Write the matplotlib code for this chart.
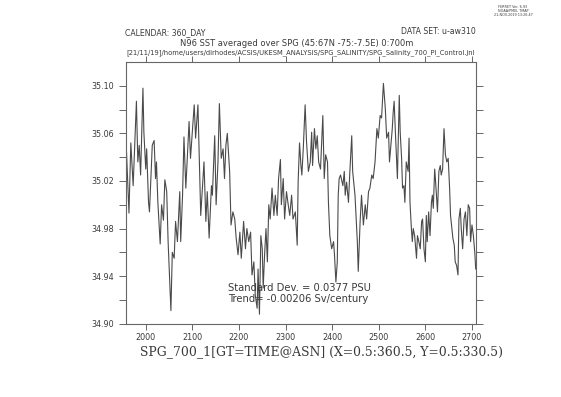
import numpy as np
import matplotlib
matplotlib.use('Agg')
import matplotlib.pyplot as plt

# salinity time series (model year, PSU)
years = [1957, 1964, 1968, 1973, 1975, 1980, 1983, 1986, 1989, 1994, 1996, 2000, 2002, 2006, 2008,
         2014, 2018, 2021, 2023, 2026, 2031, 2034, 2038, 2041, 2045, 2048, 2051, 2054, 2057, 2061,
         2064, 2068, 2073, 2075, 2079, 2082, 2086, 2093, 2096, 2104, 2107, 2112, 2118, 2125, 2129,
         2132, 2136, 2141, 2143, 2148, 2151, 2155, 2158, 2162, 2166, 2169, 2172, 2175, 2177, 2180,
         2183, 2187, 2191, 2194, 2198, 2202, 2205, 2210, 2214, 2217, 2221, 2225, 2228, 2232, 2235,
         2239, 2241, 2244, 2247, 2250, 2252, 2255, 2258, 2261, 2264, 2267, 2271, 2275, 2278, 2282,
         2285, 2289, 2291, 2295, 2298, 2302, 2305, 2309, 2313, 2316, 2321, 2325, 2327, 2330, 2333,
         2335, 2338, 2342, 2345, 2349, 2353, 2356, 2358, 2362, 2365, 2368, 2371, 2375, 2380, 2383,
         2386, 2390, 2392, 2395, 2399, 2403, 2405, 2408, 2411, 2413, 2415, 2418, 2423, 2426, 2428,
         2431, 2435, 2438, 2442, 2444, 2449, 2454, 2456, 2460, 2463, 2467, 2471, 2474, 2478, 2481,
         2485, 2488, 2492, 2496, 2499, 2503, 2506, 2510, 2514, 2517, 2521, 2523, 2526, 2529, 2531,
         2533, 2536, 2540, 2544, 2546, 2549, 2551, 2554, 2556, 2559, 2563, 2565, 2567, 2570, 2572,
         2574, 2577, 2581, 2583, 2586, 2589, 2592, 2594, 2597, 2600, 2602, 2604, 2607, 2610, 2613,
         2615, 2617, 2620, 2622, 2626, 2629, 2632, 2634, 2637, 2640, 2643, 2646, 2649, 2652, 2654,
         2657, 2659, 2662, 2664, 2667, 2670, 2672, 2675, 2677, 2680, 2683, 2686, 2689, 2692, 2695,
         2697, 2700, 2703, 2706, 2708]
sal = [35.061, 34.993, 35.052, 35.016, 35.036, 35.087, 35.036, 35.050, 35.025, 35.098, 35.061, 35.030, 35.047, 35.002, 34.994,
       35.050, 35.054, 35.022, 35.036, 35.002, 34.967, 35.000, 34.987, 35.021, 35.011, 34.969, 34.941, 34.911, 34.960, 34.955,
       34.986, 34.969, 35.011, 34.969, 35.008, 35.057, 35.014, 35.070, 35.039, 35.084, 35.056, 35.084, 34.991, 35.036, 34.986,
       35.011, 34.972, 35.016, 35.008, 35.058, 35.000, 35.036, 35.085, 35.039, 35.047, 35.022, 35.050, 35.060, 35.047, 35.028,
       34.983, 34.994, 34.988, 34.972, 34.958, 34.977, 34.955, 34.986, 34.963, 34.980, 34.969, 34.977, 34.941, 34.952, 34.924,
       34.913, 34.946, 34.908, 34.974, 34.963, 34.930, 34.958, 34.980, 34.952, 35.000, 34.988, 35.014, 34.991, 35.008, 34.991,
       35.022, 35.038, 35.000, 35.022, 34.988, 35.011, 35.002, 34.991, 35.008, 34.988, 34.994, 34.966, 35.019, 35.052, 35.033,
       35.025, 35.047, 35.084, 35.053, 35.028, 35.036, 35.061, 35.033, 35.064, 35.047, 35.058, 35.036, 35.030, 35.075, 35.022,
       35.042, 35.036, 35.002, 34.974, 34.963, 34.969, 34.958, 34.935, 34.952, 35.008, 35.022, 35.025, 35.016, 35.028, 35.008,
       35.019, 35.002, 35.028, 35.058, 35.028, 35.008, 34.969, 34.944, 34.986, 35.008, 34.983, 35.000, 34.988, 35.011, 35.014,
       35.025, 35.022, 35.036, 35.064, 35.056, 35.075, 35.073, 35.102, 35.081, 35.056, 35.061, 35.036, 35.050, 35.064, 35.078,
       35.087, 35.058, 35.022, 35.092, 35.061, 35.039, 35.014, 35.016, 35.002, 35.036, 35.028, 35.056, 35.002, 34.980, 34.969,
       34.980, 34.974, 34.955, 34.974, 34.969, 34.963, 34.986, 34.988, 34.963, 34.952, 34.991, 34.969, 34.994, 34.974, 35.002,
       35.008, 34.997, 35.030, 35.019, 34.994, 35.028, 35.033, 35.025, 35.030, 35.064, 35.042, 35.036, 35.039, 35.014, 34.991,
       34.980, 34.972, 34.966, 34.952, 34.949, 34.941, 34.988, 34.997, 34.980, 34.963, 34.988, 34.994, 34.974, 35.000, 34.997,
       34.969, 34.983, 34.974, 34.960, 34.946]

xticks = [2000, 2100, 2200, 2300, 2400, 2500, 2600, 2700]
yticks = [34.90, 34.94, 34.98, 35.02, 35.06, 35.10]
yminor = [34.92, 34.96, 35.00, 35.04, 35.08]

W, H = 561, 397
fig = plt.figure(figsize=(W / 100, H / 100), dpi=100)
ax = fig.add_axes([125.7 / W, 1 - 323.7 / H, 350 / W, 261.7 / H])

ax.plot(years, sal, color='#4a4a4a', linewidth=0.8)
ax.set_xlim(years[0], years[-1])
ax.set_ylim(34.90, 35.12)

ax.set_xticks(xticks)
ax.set_xticklabels([str(t) for t in xticks])
ax.set_yticks(yticks)
ax.set_yticklabels(['%.2f' % t for t in yticks])
ax.set_yticks(yminor, minor=True)
ax.tick_params(axis='both', which='both', direction='out', top=True, right=True,
               color='#666666', width=0.7, labelsize=5.8, labelcolor='#3a3a3a')
ax.tick_params(axis='y', which='both', length=5)
ax.tick_params(axis='x', which='both', length=4, pad=3)
for s in ax.spines.values():
    s.set_color('#666666')
    s.set_linewidth(0.8)

# header texts
def ftext(x, y, s, **kw):
    fig.text(x / W, 1 - y / H, s, va='center', color='#3a3a3a', **kw)

ftext(125, 33, 'CALENDAR: 360_DAY', fontsize=5.6)
ftext(476, 32, 'DATA SET: u-aw310', fontsize=5.6, ha='right')
ftext(297, 44, 'N96 SST averaged over SPG (45:67N -75:-7.5E) 0:700m', fontsize=6.0, ha='center')
ftext(301, 53, '[21/11/19]/home/users/dirhodes/ACSIS/UKESM_ANALYSIS/SPG_SALINITY/SPG_Salinity_700_PI_Control.jnl',
      fontsize=4.9, ha='center')
ftext(513, 6.5, 'FERRET Ver. 6.93', fontsize=2.4, ha='center')
ftext(513, 10.5, 'NOAA/PMEL TMAP', fontsize=2.4, ha='center')
ftext(513, 14.5, '21-NOV-2019 13:26:47', fontsize=2.4, ha='center')

# statistics
ftext(228, 288, 'Standard Dev. = 0.0377 PSU', fontsize=7.2)
ftext(228, 299, 'Trend= -0.00206 Sv/century', fontsize=7.2)

# bottom label
ftext(321, 352, 'SPG_700_1[GT=TIME@ASN] (X=0.5:360.5, Y=0.5:330.5)', fontsize=8.9, ha='center',
      family='DejaVu Serif')

fig.savefig('out.png', dpi=100)
